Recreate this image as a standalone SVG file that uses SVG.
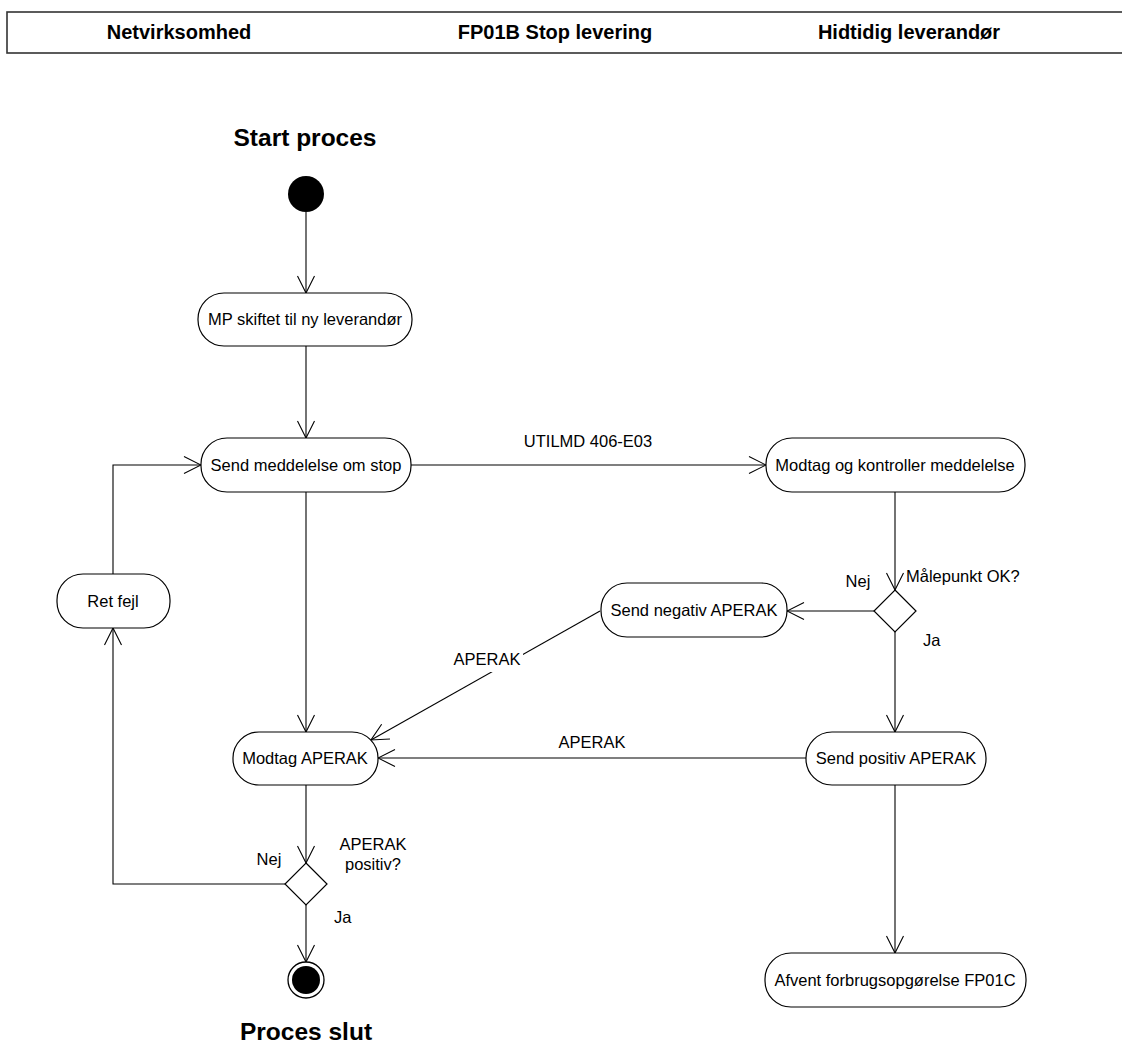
<svg xmlns="http://www.w3.org/2000/svg" width="1122" height="1046" viewBox="0 0 1122 1046">
<defs>
<style>
.hdr{font-family:"Liberation Sans",Arial,sans-serif;font-size:20px;font-weight:bold;fill:#000;text-anchor:middle}
.ttl{font-family:"Liberation Sans",Arial,sans-serif;font-size:24.5px;font-weight:bold;fill:#000;text-anchor:middle}
.lbl{font-family:"Liberation Sans",Arial,sans-serif;font-size:16.5px;fill:#000}
.mid{text-anchor:middle}
.node rect{fill:#fff;stroke:#000;stroke-width:1.2}
.dia{fill:#fff;stroke:#000;stroke-width:1.2}
.con path{fill:none;stroke:#000;stroke-width:1.1}
</style>
<marker id="arr" viewBox="-19 -10 20 20" markerWidth="20" markerHeight="20" refX="0" refY="0" orient="auto" markerUnits="userSpaceOnUse">
<path d="M-17,-8.5 L0,0 L-17,8.5" fill="none" stroke="#000" stroke-width="1.1"/>
</marker>
</defs>
<rect width="1122" height="1046" fill="#fff"/>
<g id="header">
<rect x="7" y="12" width="1130" height="41" fill="#fff" stroke="#333" stroke-width="1.6"/>
<text class="hdr" x="179" y="39">Netvirksomhed</text>
<text class="hdr" x="555" y="39">FP01B Stop levering</text>
<text class="hdr" x="909" y="39">Hidtidig leverandør</text>
</g>
<g id="connectors" class="con">
<path d="M306,212 V293" marker-end="url(#arr)"/>
<path d="M306,346 V438" marker-end="url(#arr)"/>
<path d="M411,465 H766" marker-end="url(#arr)"/>
<path d="M306,492 V732" marker-end="url(#arr)"/>
<path d="M895,492 V590" marker-end="url(#arr)"/>
<path d="M874,611 H787" marker-end="url(#arr)"/>
<path d="M895,631 V732" marker-end="url(#arr)"/>
<path d="M895,785 V953" marker-end="url(#arr)"/>
<path d="M806,758 H378" marker-end="url(#arr)"/>
<path d="M600,611 L371,740" marker-end="url(#arr)"/>
<path d="M306,785 V863" marker-end="url(#arr)"/>
<path d="M306,904 V962" marker-end="url(#arr)"/>
<path d="M285,884 H113 V628" marker-end="url(#arr)"/>
<path d="M113,574 V465 H201" marker-end="url(#arr)"/>
<text class="lbl mid" x="588" y="447">UTILMD 406-E03</text>
<rect x="451" y="649" width="72" height="23" fill="#fff"/>
<text class="lbl mid" x="487" y="665">APERAK</text>
<text class="lbl mid" x="592" y="748">APERAK</text>
<text class="lbl mid" x="858" y="587">Nej</text>
<text class="lbl" x="906" y="582">Målepunkt OK?</text>
<text class="lbl" x="923" y="646">Ja</text>
<text class="lbl mid" x="269" y="865">Nej</text>
<text class="lbl mid" x="373" y="850">APERAK</text>
<text class="lbl mid" x="373" y="870">positiv?</text>
<text class="lbl" x="334" y="923">Ja</text>
</g>
<g id="start">
<text class="ttl" x="305" y="146">Start proces</text>
<circle cx="306" cy="194" r="18" fill="#000"/>
</g>
<g id="mp-skiftet" class="node">
<rect x="198" y="293" width="214" height="53" rx="26"/>
<text class="lbl mid" x="305" y="325">MP skiftet til ny leverandør</text>
</g>
<g id="send-meddelelse" class="node">
<rect x="201" y="438" width="210" height="54" rx="26"/>
<text class="lbl mid" x="306" y="471">Send meddelelse om stop</text>
</g>
<g id="modtag-kontroller" class="node">
<rect x="766" y="438" width="259" height="54" rx="26"/>
<text class="lbl mid" x="895" y="471">Modtag og kontroller meddelelse</text>
</g>
<g id="ret-fejl" class="node">
<rect x="57" y="574" width="113" height="54" rx="26"/>
<text class="lbl mid" x="113" y="607">Ret fejl</text>
</g>
<g id="maalepunkt-ok">
<path class="dia" d="M895,590 L916,611 L895,632 L874,611 Z"/>
</g>
<g id="send-negativ" class="node">
<rect x="601" y="583" width="186" height="54" rx="26"/>
<text class="lbl mid" x="694" y="616">Send negativ APERAK</text>
</g>
<g id="modtag-aperak" class="node">
<rect x="233" y="732" width="145" height="53" rx="26"/>
<text class="lbl mid" x="305" y="764">Modtag APERAK</text>
</g>
<g id="send-positiv" class="node">
<rect x="806" y="732" width="180" height="53" rx="26"/>
<text class="lbl mid" x="896" y="764">Send positiv APERAK</text>
</g>
<g id="aperak-positiv">
<path class="dia" d="M306,863 L327,884 L306,905 L285,884 Z"/>
</g>
<g id="afvent" class="node">
<rect x="765" y="953" width="261" height="54" rx="26"/>
<text class="lbl mid" x="895" y="986">Afvent forbrugsopgørelse FP01C</text>
</g>
<g id="slut">
<circle cx="306" cy="980" r="18" fill="#fff" stroke="#000" stroke-width="1.3"/>
<circle cx="306" cy="980" r="14" fill="#000"/>
<text class="ttl" x="306" y="1040">Proces slut</text>
</g>
</svg>
